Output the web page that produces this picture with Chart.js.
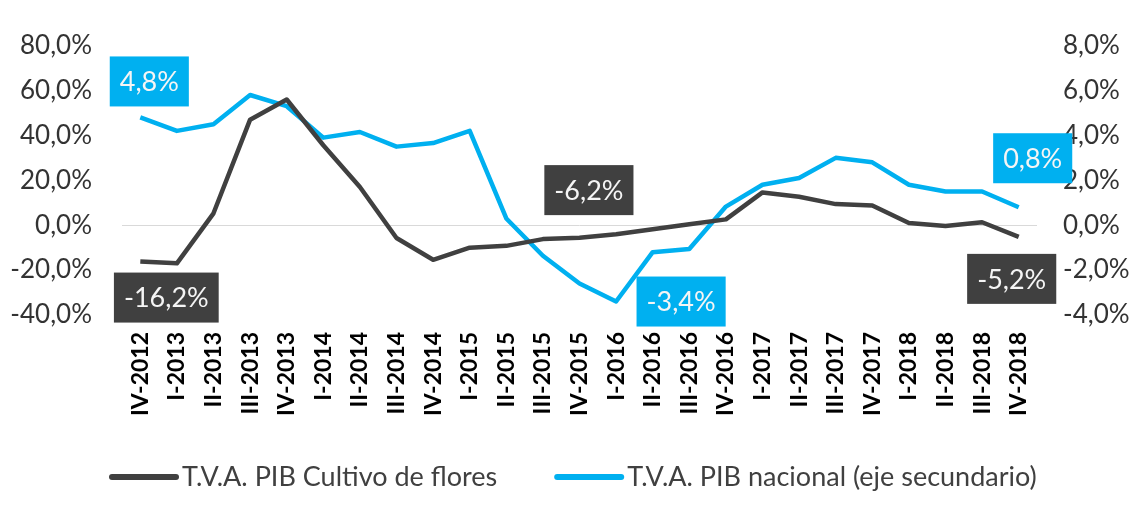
<!DOCTYPE html>
<html>
<head>
<meta charset="utf-8">
<script src="https://cdn.jsdelivr.net/npm/chart.js@4/dist/chart.umd.min.js"></script>
<style>
  body { margin: 0; background: #ffffff; }
  #wrap { width: 1140px; height: 519px; }
</style>
</head>
<body>
<div id="wrap"><canvas id="myChart"></canvas></div>
<script>
var quarters = ["IV-2012", "I-2013", "II-2013", "III-2013", "IV-2013", "I-2014", "II-2014", "III-2014", "IV-2014",
  "I-2015", "II-2015", "III-2015", "IV-2015", "I-2016", "II-2016", "III-2016", "IV-2016",
  "I-2017", "II-2017", "III-2017", "IV-2017", "I-2018", "II-2018", "III-2018", "IV-2018"];

var floresValues = [-16.2, -17.0, 5.3, 47.0, 56.0, 35.6, 17.0, -5.7, -15.4,
  -10.0, -9.2, -6.2, -5.6, -4.0, -1.8, 0.4, 2.6,
  14.6, 12.7, 9.4, 8.8, 1.0, -0.4, 1.3, -5.2];

var nacionalValues = [4.8, 4.2, 4.5, 5.8, 5.3, 3.9, 4.15, 3.5, 3.66,
  4.2, 0.3, -1.36, -2.6, -3.4, -1.2, -1.06, 0.83,
  1.8, 2.1, 3.0, 2.8, 1.8, 1.5, 1.5, 0.8];

var seriesNames = ["T.V.A. PIB Cultivo de flores", "T.V.A. PIB nacional (eje secundario)"];
var seriesColors = ["#404040", "#00b0f0"];

var leftTicks = [-40, -20, 0, 20, 40, 60, 80];
var rightTicks = [-4, -2, 0, 2, 4, 6, 8];

// which points get a boxed label: [dataset, index, dx, dy]
var labelPoints = [
  [1, 0, 9, -36],
  [0, 0, 26, 36],
  [0, 11, 46, -49],
  [1, 13, 65, 0],
  [1, 24, 14, -49],
  [0, 24, -7, 42]
];

function pct(v) {
  return v.toFixed(1).replace(".", ",") + "%";
}

var boxLabels = {
  id: "boxLabels",
  afterDatasetsDraw: function(chart) {
    var ctx = chart.ctx;
    ctx.save();
    ctx.font = "27px Lato";
    ctx.textAlign = "center";
    ctx.textBaseline = "middle";
    for (var i = 0; i < labelPoints.length; i++) {
      var lp = labelPoints[i];
      var pt = chart.getDatasetMeta(lp[0]).data[lp[1]];
      var val = chart.data.datasets[lp[0]].data[lp[1]];
      var txt = pct(val);
      var w = ctx.measureText(txt).width + 20;
      var cx = pt.x + lp[2];
      var cy = pt.y + lp[3];
      ctx.fillStyle = seriesColors[lp[0]];
      ctx.fillRect(cx - w / 2, cy - 25, w, 50);
      ctx.fillStyle = "#f5f5f5";
      ctx.fillText(txt, cx, cy + 1);
    }
    ctx.restore();
  }
};

var lineLegend = {
  id: "lineLegend",
  afterDraw: function(chart) {
    var ctx = chart.ctx;
    ctx.save();
    ctx.font = "27px Lato";
    ctx.textBaseline = "middle";
    var x = 112;
    var y = 477;
    for (var i = 0; i < seriesNames.length; i++) {
      ctx.strokeStyle = seriesColors[i];
      ctx.lineWidth = 6;
      ctx.lineCap = "round";
      ctx.beginPath();
      ctx.moveTo(x, y);
      ctx.lineTo(x + 64, y);
      ctx.stroke();
      ctx.fillStyle = "#404040";
      ctx.fillText(seriesNames[i], x + 70, y);
      x = x + 70 + ctx.measureText(seriesNames[i]).width + 60;
    }
    ctx.restore();
  }
};

new Chart("myChart", {
  type: "line",
  data: {
    labels: quarters,
    datasets: [{
      label: seriesNames[0],
      data: floresValues,
      borderColor: seriesColors[0],
      backgroundColor: seriesColors[0],
      borderWidth: 4.5,
      pointRadius: 0,
      tension: 0,
      borderJoinStyle: "round",
      yAxisID: "y"
    }, {
      label: seriesNames[1],
      data: nacionalValues,
      borderColor: seriesColors[1],
      backgroundColor: seriesColors[1],
      borderWidth: 4.5,
      pointRadius: 0,
      tension: 0,
      borderJoinStyle: "round",
      yAxisID: "y2"
    }]
  },
  options: {
    responsive: true,
    maintainAspectRatio: false,
    animation: false,
    layout: { padding: { top: 42, bottom: 84, left: 0, right: 0 } },
    plugins: {
      legend: { display: false },
      tooltip: { enabled: false }
    },
    scales: {
      x: {
        offset: true,
        grid: { display: false, drawTicks: false },
        border: { display: false },
        ticks: {
          minRotation: 90,
          maxRotation: 90,
          autoSkip: false,
          padding: 17,
          color: "#000000",
          font: { family: "Lato", size: 23, weight: "bold" }
        },
        afterFit: function(scale) { scale.height = 120; }
      },
      y: {
        position: "left",
        min: -40,
        max: 80,
        afterBuildTicks: function(scale) {
          scale.ticks = leftTicks.map(function(v) { return { value: v }; });
        },
        grid: {
          drawTicks: false,
          color: function(c) { return c.tick && c.tick.value === 0 ? "#d9d9d9" : "rgba(0,0,0,0)"; }
        },
        border: { display: false },
        ticks: {
          padding: 30,
          color: "#333333",
          font: { family: "Lato", size: 26 },
          callback: function(v) { return pct(v); }
        },
        afterFit: function(scale) { scale.width = 122; }
      },
      y2: {
        position: "right",
        min: -4,
        max: 8,
        z: 1,
        afterBuildTicks: function(scale) {
          scale.ticks = rightTicks.map(function(v) { return { value: v }; });
        },
        grid: { display: false, drawTicks: false },
        border: { display: false },
        ticks: {
          padding: 26,
          color: "#333333",
          font: { family: "Lato", size: 26 },
          callback: function(v) { return pct(v); }
        },
        afterFit: function(scale) { scale.width = 103; }
      }
    }
  },
  plugins: [boxLabels, lineLegend]
});
</script>
</body>
</html>
